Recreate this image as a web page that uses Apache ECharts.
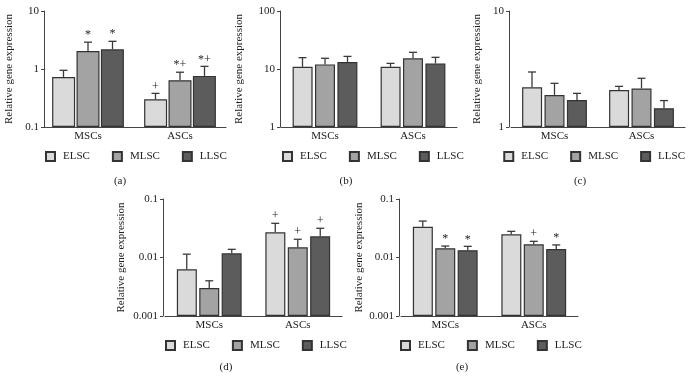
<!DOCTYPE html>
<html>
<head>
<meta charset="utf-8">
<script src="https://cdn.jsdelivr.net/npm/echarts@6/dist/echarts.min.js"></script>
<style>
  html, body { margin: 0; padding: 0; background: #fff; }
  #chart { width: 693px; height: 389px; }
</style>
</head>
<body>
<div id="chart"></div>
<script>
// groups + series
const categories = ['MSCs', 'ASCs']
const seriesNames = ['ELSC', 'MLSC', 'LLSC']
const colors = ['#dadada', '#a3a3a3', '#5c5c5c']

// (a) mean and upper error (SD) per series, [MSCs, ASCs]
const aELSC = [0.73, 0.30]
const aMLSC = [2.04, 0.64]
const aLLSC = [2.18, 0.76]
const aErr = [[0.22, 0.08], [0.86, 0.24], [0.82, 0.35]]
const aMarks = [['', '+'], ['*', '*+'], ['*', '*+']]

// (b)
const bELSC = [10.9, 10.9]
const bMLSC = [12.0, 15.3]
const bLLSC = [13.2, 12.5]
const bErr = [[4.8, 1.6], [3.3, 4.1], [3.3, 3.4]]
const bMarks = [['', ''], ['', ''], ['', '']]

// (c)
const cELSC = [2.2, 2.08]
const cMLSC = [1.89, 2.15]
const cLLSC = [1.71, 1.45]
const cErr = [[0.78, 0.16], [0.49, 0.48], [0.24, 0.24]]
const cMarks = [['', ''], ['', ''], ['', '']]

// (d)
const dELSC = [0.0063, 0.0269]
const dMLSC = [0.0030, 0.0149]
const dLLSC = [0.0118, 0.0230]
const dErr = [[0.0051, 0.0115], [0.0010, 0.0056], [0.0020, 0.0086]]
const dMarks = [['', '+'], ['', '+'], ['', '+']]

// (e)
const eELSC = [0.0336, 0.0249]
const eMLSC = [0.0144, 0.0168]
const eLLSC = [0.0133, 0.0140]
const eErr = [[0.0084, 0.0031], [0.0013, 0.0021], [0.0022, 0.0024]]
const eMarks = [['', ''], ['*', '+'], ['*', '*']]

const yMin = [0.1, 1, 1, 0.001, 0.001]
const yMax = [10, 100, 10, 0.1, 0.1]
const panelLabels = ['(a)', '(b)', '(c)', '(d)', '(e)']

const FONT = '"Liberation Serif", "DejaVu Serif", serif'
const TEXT = '#222'
const LINE = '#444'

const panels = [
  { means: [aELSC, aMLSC, aLLSC], err: aErr, marks: aMarks,
    grid: { left: 42, top: 11, width: 184, height: 116 }, yOffset: -2,
    barW: 23, gap: '6%', step: 24.5, nameGap: 29,
    legend: { left: 45, top: 151 }, label: [120, 181] },
  { means: [bELSC, bMLSC, bLLSC], err: bErr, marks: bMarks,
    grid: { left: 281, top: 11, width: 176, height: 116 }, yOffset: 1,
    barW: 20, gap: '12%', step: 22.5, nameGap: 35,
    legend: { left: 282, top: 151 }, label: [346, 181] },
  { means: [cELSC, cMLSC, cLLSC], err: cErr, marks: cMarks,
    grid: { left: 511, top: 11, width: 174, height: 116 }, yOffset: 2,
    barW: 20, gap: '12%', step: 22.5, nameGap: 26,
    legend: { right: 8, top: 151 }, label: [580, 181] },
  { means: [dELSC, dMLSC, dLLSC], err: dErr, marks: dMarks,
    grid: { left: 165, top: 199, width: 177, height: 117 }, yOffset: 2,
    barW: 20, gap: '12%', step: 22.5, nameGap: 36,
    legend: { left: 165, top: 340 }, label: [226, 367] },
  { means: [eELSC, eMLSC, eLLSC], err: eErr, marks: eMarks,
    grid: { left: 401, top: 199, width: 177, height: 117 }, yOffset: 2,
    barW: 20, gap: '12%', step: 22.5, nameGap: 34,
    legend: { left: 400, top: 340 }, label: [462, 367] }
]

const chart = echarts.init(document.getElementById('chart'))

const grids = [], xAxes = [], yAxes = [], legends = [], series = [], graphics = []

panels.forEach((p, i) => {
  grids.push(p.grid)
  xAxes.push({
    type: 'category',
    gridIndex: i,
    data: categories,
    axisLine: { lineStyle: { color: LINE, width: 1 } },
    axisTick: { show: false },
    axisLabel: { color: TEXT, fontFamily: FONT, fontSize: 11, margin: 4 }
  })
  yAxes.push({
    type: 'log',
    logBase: 10,
    gridIndex: i,
    min: yMin[i],
    max: yMax[i],
    offset: p.yOffset,
    name: 'Relative gene expression',
    nameLocation: 'middle',
    nameGap: p.nameGap,
    nameTextStyle: { color: TEXT, fontFamily: FONT, fontSize: 11 },
    axisLine: { show: true, lineStyle: { color: LINE, width: 1 } },
    axisTick: { show: true, length: 3, lineStyle: { color: LINE } },
    axisLabel: { color: TEXT, fontFamily: FONT, fontSize: 11, margin: 5 },
    splitLine: { show: false },
    minorTick: { show: false }
  })
  legends.push(Object.assign({
    data: seriesNames,
    top: p.legend.top,
    padding: 0,
    itemWidth: 9,
    itemHeight: 9,
    itemGap: 22,
    icon: 'rect',
    selectedMode: false,
    textStyle: { color: TEXT, fontFamily: FONT, fontSize: 11, padding: [0, 0, 0, 3] }
  }, p.legend))

  seriesNames.forEach((name, s) => {
    const stack = 'p' + i + 's' + s
    // log axis bars grow from 1, so an invisible base bar lifts them to the axis min
    series.push({
      type: 'bar',
      stack: stack,
      xAxisIndex: i,
      yAxisIndex: i,
      data: p.means[s].map(() => yMin[i]),
      barWidth: p.barW,
      barGap: p.gap,
      silent: true,
      itemStyle: { color: 'rgba(0,0,0,0)' }
    })
    series.push({
      name: name,
      type: 'bar',
      stack: stack,
      xAxisIndex: i,
      yAxisIndex: i,
      data: p.means[s].map(v => v - yMin[i]),
      barWidth: p.barW,
      barGap: p.gap,
      itemStyle: { color: colors[s], borderColor: '#333', borderWidth: 1.2 }
    })
  })

  // error bars + significance marks
  const errData = []
  seriesNames.forEach((name, s) => {
    categories.forEach((c, k) => {
      errData.push([k, p.means[s][k], p.means[s][k] + p.err[s][k], s])
    })
  })
  series.push({
    type: 'custom',
    xAxisIndex: i,
    yAxisIndex: i,
    data: errData,
    encode: { x: 0, y: 2 },
    z: 3,
    silent: true,
    renderItem: (params, api) => {
      const k = api.value(0)
      const s = api.value(3)
      const dx = (s - 1) * p.step
      const base = api.coord([k, api.value(1)])
      const top = api.coord([k, api.value(2)])
      const x = base[0] + dx
      const st = { stroke: '#3a3a3a', lineWidth: 1.3 }
      const children = [
        { type: 'line', shape: { x1: x, y1: base[1], x2: x, y2: top[1] }, style: st },
        { type: 'line', shape: { x1: x - 4, y1: top[1], x2: x + 4, y2: top[1] }, style: st }
      ]
      const mark = p.marks[s][k]
      if (mark) {
        children.push({
          type: 'text',
          x: x,
          y: top[1] - 1,
          style: { text: mark, align: 'center', verticalAlign: 'bottom', fill: TEXT, font: '12px ' + FONT }
        })
      }
      return { type: 'group', children: children }
    }
  })

  graphics.push({
    type: 'text',
    x: p.label[0],
    y: p.label[1],
    style: { text: panelLabels[i], align: 'center', verticalAlign: 'middle', fill: TEXT, font: '11px ' + FONT }
  })
})

chart.setOption({
  animation: false,
  grid: grids,
  xAxis: xAxes,
  yAxis: yAxes,
  legend: legends,
  series: series,
  graphic: graphics
})
</script>
</body>
</html>
